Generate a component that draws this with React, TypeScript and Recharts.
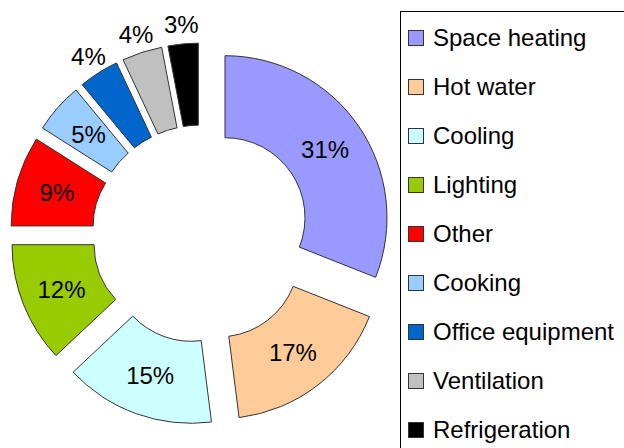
import { PieChart, Pie, Cell, Sector, Legend } from "recharts";

const categories = [
  "Space heating",
  "Hot water",
  "Cooling",
  "Lighting",
  "Other",
  "Cooking",
  "Office equipment",
  "Ventilation",
  "Refrigeration",
];
const shares = [31, 17, 15, 12, 9, 5, 4, 4, 3];
const colors = [
  "#9999FF",
  "#FFCC99",
  "#CCFFFF",
  "#99CC00",
  "#FF0000",
  "#99CCFF",
  "#0066CC",
  "#C0C0C0",
  "#000000",
];

const data = categories.map((name, i) => ({ name, value: shares[i] }));

const FONT = "'Liberation Sans', Arial, sans-serif";
const RAD = Math.PI / 180;
const EXPLODE = 29;

// offset each slice outward along its own mid angle
const shift = (midAngle: number) => ({
  dx: EXPLODE * Math.cos(-midAngle * RAD),
  dy: EXPLODE * Math.sin(-midAngle * RAD),
});

function ExplodedSlice(props: any) {
  const { cx, cy, innerRadius, outerRadius, startAngle, endAngle, midAngle, fill } = props;
  const { dx, dy } = shift(midAngle);
  return (
    <Sector
      cx={cx + dx}
      cy={cy + dy}
      innerRadius={innerRadius}
      outerRadius={outerRadius}
      startAngle={startAngle}
      endAngle={endAngle}
      fill={fill}
      stroke="#333"
      strokeWidth={1}
    />
  );
}

function renderLabel(props: any) {
  const { cx, cy, midAngle, innerRadius, outerRadius, value } = props;
  const { dx, dy } = shift(midAngle);
  const r = value < 5 ? outerRadius + 19 : (innerRadius + outerRadius) / 2;
  const x = cx + dx + r * Math.cos(-midAngle * RAD);
  const y = cy + dy + r * Math.sin(-midAngle * RAD);
  return (
    <text
      x={x}
      y={y}
      textAnchor="middle"
      dominantBaseline="central"
      fontSize={24}
      fontFamily={FONT}
      fill="#000"
    >
      {value}%
    </text>
  );
}

function LegendBox(props: any) {
  const fromPayload: Record<string, string> = {};
  (props.payload || []).forEach((p: any) => {
    fromPayload[p.value] = p.color;
  });
  const items = categories.map((name, i) => ({ name, color: fromPayload[name] || colors[i] }));
  return (
    <div
      style={{
        border: "1px solid #000",
        width: 260,
        height: 460,
        boxSizing: "border-box",
        paddingTop: 1,
        background: "#fff",
      }}
    >
      {items.map((it) => (
        <div
          key={it.name}
          style={{
            display: "flex",
            alignItems: "center",
            height: 49,
            fontFamily: FONT,
            fontSize: 24,
            color: "#000",
            whiteSpace: "nowrap",
          }}
        >
          <span
            style={{
              display: "inline-block",
              width: 14,
              height: 14,
              marginLeft: 7,
              marginRight: 9,
              background: it.color,
              border: "1px solid #333",
            }}
          />
          {it.name}
        </div>
      ))}
    </div>
  );
}

export default function App() {
  return (
    <div
      style={{
        position: "absolute",
        left: 0,
        top: 0,
        width: 624,
        height: 448,
        overflow: "hidden",
        background: "#fff",
      }}
    >
      <PieChart width={624} height={448} margin={{ top: 0, right: 0, bottom: 0, left: 0 }}>
        <Pie
          data={data}
          dataKey="value"
          nameKey="name"
          cx={201}
          cy={234}
          innerRadius={80}
          outerRadius={162}
          startAngle={90}
          endAngle={-270}
          shape={ExplodedSlice}
          activeShape={ExplodedSlice}
          label={renderLabel}
          labelLine={false}
          isAnimationActive={false}
        >
          {data.map((d, i) => (
            <Cell key={d.name} fill={colors[i]} />
          ))}
        </Pie>
        <Legend
          layout="vertical"
          content={LegendBox}
          wrapperStyle={{ position: "absolute", left: 400, top: 11, width: 260, height: 460 }}
        />
      </PieChart>
    </div>
  );
}
